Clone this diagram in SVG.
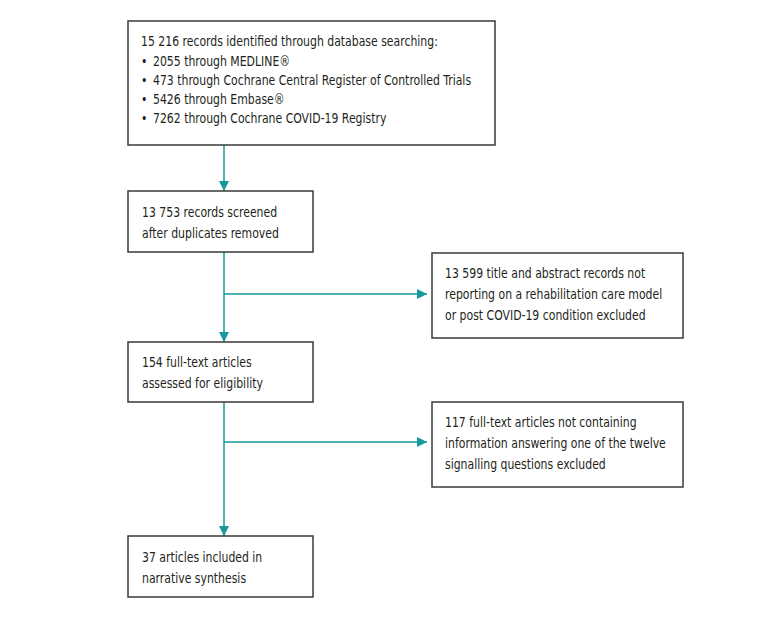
<svg xmlns="http://www.w3.org/2000/svg" width="771" height="618" viewBox="0 0 771 618">
<style>
.box{fill:#fff;stroke:#3a3a3a;stroke-width:1.5}
.t{font-family:"Liberation Sans Narrow","DejaVu Sans Condensed","Liberation Sans",sans-serif;font-size:14.5px;fill:#231f20}
.c{stroke:#17999b;stroke-width:1.5;fill:none}
</style>
<defs>
<marker id="ah" markerWidth="10" markerHeight="10" refX="10" refY="5" orient="auto" markerUnits="userSpaceOnUse">
<path d="M0,0 L10,5 L0,10 Z" fill="#17999b"/>
</marker>
</defs>
<rect width="771" height="618" fill="#fff"/>
<g id="connectors">
<line class="c" x1="224" y1="145" x2="224" y2="191" marker-end="url(#ah)"/>
<line class="c" x1="224" y1="252" x2="224" y2="342" marker-end="url(#ah)"/>
<line class="c" x1="224" y1="294" x2="427" y2="294" marker-end="url(#ah)"/>
<line class="c" x1="224" y1="402" x2="224" y2="536" marker-end="url(#ah)"/>
<line class="c" x1="224" y1="442" x2="427" y2="442" marker-end="url(#ah)"/>
</g>
<g id="n1">
<rect class="box" x="128" y="21" width="367" height="124"/>
<g transform="translate(141,0) scale(0.835,1)">
<text class="t" x="0" y="46">15 216 records identified through database searching:</text>
<text class="t" x="0" y="66">•</text><text class="t" x="14.4" y="66">2055 through MEDLINE®</text>
<text class="t" x="0" y="85">•</text><text class="t" x="14.4" y="85">473 through Cochrane Central Register of Controlled Trials</text>
<text class="t" x="0" y="104">•</text><text class="t" x="14.4" y="104">5426 through Embase®</text>
<text class="t" x="0" y="123">•</text><text class="t" x="14.4" y="123">7262 through Cochrane COVID-19 Registry</text>
</g>
</g>
<g id="n2">
<rect class="box" x="128" y="191" width="185" height="61"/>
<g transform="translate(142,0) scale(0.835,1)">
<text class="t" x="0" y="217">13 753 records screened</text>
<text class="t" x="0" y="238">after duplicates removed</text>
</g>
</g>
<g id="n3">
<rect class="box" x="432" y="253" width="251" height="85"/>
<g transform="translate(445,0) scale(0.835,1)">
<text class="t" x="0" y="278">13 599 title and abstract records not</text>
<text class="t" x="0" y="299">reporting on a rehabilitation care model</text>
<text class="t" x="0" y="320">or post COVID-19 condition excluded</text>
</g>
</g>
<g id="n4">
<rect class="box" x="128" y="342" width="185" height="60"/>
<g transform="translate(142,0) scale(0.835,1)">
<text class="t" x="0" y="367">154 full-text articles</text>
<text class="t" x="0" y="388">assessed for eligibility</text>
</g>
</g>
<g id="n5">
<rect class="box" x="432" y="402" width="251" height="85"/>
<g transform="translate(445,0) scale(0.835,1)">
<text class="t" x="0" y="427">117 full-text articles not containing</text>
<text class="t" x="0" y="448">information answering one of the twelve</text>
<text class="t" x="0" y="469">signalling questions excluded</text>
</g>
</g>
<g id="n6">
<rect class="box" x="128" y="536" width="185" height="61"/>
<g transform="translate(142,0) scale(0.835,1)">
<text class="t" x="0" y="562">37 articles included in</text>
<text class="t" x="0" y="583">narrative synthesis</text>
</g>
</g>
</svg>
